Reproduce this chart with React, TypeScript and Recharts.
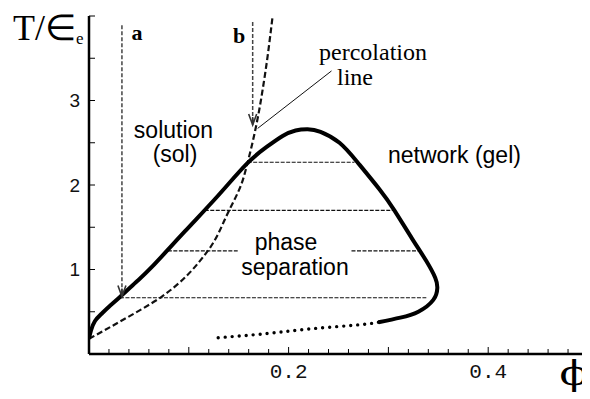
import { LineChart, Line, XAxis, YAxis } from "recharts";

// coexistence curve, points as [phi, T/eps]
const binodal: [number, number][] = [
  [0.0, 0.18], [0.002, 0.28], [0.006, 0.39], [0.012, 0.47], [0.02, 0.56],
  [0.031, 0.675], [0.047, 0.85], [0.063, 1.03], [0.096, 1.45], [0.129, 1.87],
  [0.158, 2.25], [0.178, 2.45], [0.194, 2.58], [0.207, 2.645], [0.219, 2.66],
  [0.232, 2.63], [0.251, 2.5], [0.269, 2.27], [0.291, 1.95], [0.306, 1.7],
  [0.324, 1.36], [0.338, 1.1], [0.347, 0.9], [0.349, 0.78], [0.345, 0.64],
  [0.33, 0.5], [0.312, 0.43], [0.29, 0.375],
];

// dotted low-density end of the same curve
const binodalTail: [number, number][] = [
  [0.29, 0.375], [0.27, 0.345], [0.229, 0.305], [0.196, 0.265], [0.163, 0.225],
  [0.126, 0.19],
];

const percolation: [number, number][] = [
  [0.0, 0.18], [0.029, 0.37], [0.073, 0.68], [0.119, 1.22], [0.14, 1.69],
  [0.153, 2.02], [0.159, 2.27], [0.168, 2.73], [0.176, 3.28], [0.184, 4.0],
];

// tie lines: [T, phi from, phi to]
const tieLines: [number, number, number][] = [
  [2.27, 0.159, 0.266],
  [1.7, 0.116, 0.306],
  [1.22, 0.079, 0.149],
  [1.22, 0.263, 0.331],
  [0.666, 0.031, 0.338],
];

// quench paths a and b: [phi, T start, T end]
const quenchA: [number, number, number] = [0.033, 3.89, 0.68];
const quenchB: [number, number, number] = [0.164, 3.93, 2.71];

// leader from the "percolation line" label
const pointer: [number, number][] = [[0.169, 2.67], [0.243, 3.35]];

const xTicks = [
  0.02, 0.04, 0.06, 0.08, 0.1, 0.12, 0.14, 0.16, 0.18, 0.2, 0.22, 0.24, 0.26,
  0.28, 0.3, 0.32, 0.34, 0.36, 0.38, 0.4, 0.42, 0.44, 0.46, 0.48, 0.5,
];
const xLabels = [0.2, 0.4];
const yTicks = [0.5, 1, 1.5, 2, 2.5, 3, 3.5, 4];
const yLabels = [1, 2, 3];

const toPts = (arr: [number, number][]) => arr.map(([phi, T]) => ({ phi, T }));

const near = (a: number, b: number) => Math.abs(a - b) < 1e-6;

const XTick = (props: any) => {
  const { x, y, payload } = props;
  const v = payload.value as number;
  const major = near(v * 10, Math.round(v * 10));
  const label = xLabels.find((l) => near(l, v));
  return (
    <g>
      <line x1={x} x2={x} y1={y} y2={y - (major ? 7 : 5)} stroke="#000" strokeWidth={1} />
      {label !== undefined && (
        <text x={x} y={y + 24} textAnchor="middle" fontFamily="Liberation Mono" fontSize={21} fill="#111">
          {label.toFixed(1)}
        </text>
      )}
    </g>
  );
};

const YTick = (props: any) => {
  const { x, y, payload } = props;
  const v = payload.value as number;
  const label = yLabels.find((l) => near(l, v));
  return (
    <g>
      <line x1={x} x2={x + 6} y1={y} y2={y} stroke="#000" strokeWidth={1} />
      {label !== undefined && (
        <text x={x - 9} y={y} dy="0.36em" textAnchor="end" fontFamily="Liberation Sans" fontSize={19} fill="#111">
          {label}
        </text>
      )}
    </g>
  );
};

const ArrowHead = (props: any) => {
  const { cx, cy, index } = props;
  if (index !== 1) return <g key={`a${index}`} />;
  return (
    <path
      key={`a${index}`}
      d={`M${cx - 4},${cy - 11} L${cx},${cy} L${cx + 4},${cy - 11} M${cx},${cy} L${cx},${cy - 8}`}
      stroke="#333"
      strokeWidth={1.6}
      fill="none"
    />
  );
};

const W = 582;
const H = 391;

const sans = "Liberation Sans, Arial, sans-serif";
const serif = "Liberation Serif, Times New Roman, serif";

export default function App() {
  return (
    <div style={{ position: "relative", width: W, height: H }}>
      <LineChart width={W} height={H} margin={{ top: 8, right: 2, bottom: 5, left: 21 }}>
        <XAxis
          type="number"
          dataKey="phi"
          domain={[0, 0.5]}
          ticks={xTicks}
          interval={0}
          tickSize={0}
          tickMargin={0}
          tick={<XTick />}
          height={40}
          axisLine={{ stroke: "#000", strokeWidth: 2.5 }}
          allowDataOverflow
        />
        <YAxis
          type="number"
          dataKey="T"
          domain={[0, 4]}
          ticks={yTicks}
          interval={0}
          tickSize={0}
          tickMargin={0}
          tick={<YTick />}
          width={60}
          axisLine={{ stroke: "#000", strokeWidth: 2.5 }}
          allowDataOverflow
        />

        {tieLines.map(([T, a, b], i) => (
          <Line
            key={`tie${i}`}
            data={[{ phi: a, T }, { phi: b, T }]}
            dataKey="T"
            stroke="#111"
            strokeWidth={1.1}
            strokeDasharray="4 1.5"
            dot={false}
            activeDot={false}
            isAnimationActive={false}
          />
        ))}

        {[quenchA, quenchB].map(([phi, t0, t1], i) => (
          <Line
            key={`q${i}`}
            data={[{ phi, T: t0 }, { phi, T: t1 }]}
            dataKey="T"
            stroke="#444"
            strokeWidth={1.5}
            strokeDasharray="4 2"
            dot={ArrowHead}
            activeDot={false}
            isAnimationActive={false}
          />
        ))}

        <Line
          data={toPts(pointer)}
          dataKey="T"
          stroke="#111"
          strokeWidth={1}
          dot={false}
          activeDot={false}
          isAnimationActive={false}
        />

        <Line
          data={toPts(percolation)}
          dataKey="T"
          type="monotoneY"
          stroke="#111"
          strokeWidth={2.2}
          strokeDasharray="6 3"
          dot={false}
          activeDot={false}
          isAnimationActive={false}
        />

        <Line
          data={toPts(binodalTail)}
          dataKey="T"
          type="natural"
          stroke="#000"
          strokeWidth={3.4}
          strokeLinecap="round"
          strokeDasharray="0 7"
          dot={false}
          activeDot={false}
          isAnimationActive={false}
        />

        <Line
          data={toPts(binodal)}
          dataKey="T"
          type="natural"
          stroke="#000"
          strokeWidth={4}
          dot={false}
          activeDot={false}
          isAnimationActive={false}
        />
      </LineChart>

      <svg
        width={W}
        height={H}
        style={{ position: "absolute", left: 0, top: 0, pointerEvents: "none" }}
      >
        <text x={5} y={32} fontFamily={serif} fontSize={36} fill="#000">
          T/∈<tspan fontSize={17} dy={4}>e</tspan>
        </text>
        <text x={129} y={32} textAnchor="middle" fontFamily={serif} fontWeight="bold" fontSize={22}>a</text>
        <text x={231} y={35} textAnchor="middle" fontFamily={serif} fontWeight="bold" fontSize={22}>b</text>
        <text x={365} y={52} textAnchor="middle" fontFamily={serif} fontSize={24}>percolation</text>
        <text x={347} y={77} textAnchor="middle" fontFamily={serif} fontSize={24}>line</text>
        <text x={165.5} y={130} textAnchor="middle" fontFamily={sans} fontSize={23}>solution</text>
        <text x={167} y={154} textAnchor="middle" fontFamily={sans} fontSize={23}>(sol)</text>
        <text x={380} y={155} fontFamily={sans} fontSize={23}>network (gel)</text>
        <text x={278} y={242} textAnchor="middle" fontFamily={sans} fontSize={23}>phase</text>
        <text x={287} y={267} textAnchor="middle" fontFamily={sans} fontSize={23}>separation</text>
        <text
          transform="translate(566,377) scale(1.3,1)"
          textAnchor="middle"
          fontFamily="DejaVu Serif, serif"
          fontSize={33}
        >
          ϕ
        </text>
      </svg>
    </div>
  );
}
